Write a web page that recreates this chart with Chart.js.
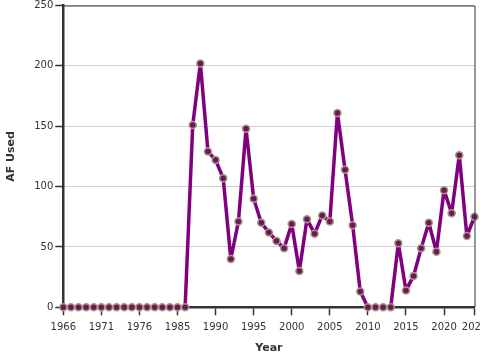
<!DOCTYPE html>
<html>
<head>
<meta charset="utf-8">
<script src="https://cdn.jsdelivr.net/npm/chart.js@4"></script>
<style>
  html, body { margin: 0; padding: 0; background: #fff; }
  #wrap { width: 480px; height: 360px; position: relative; }
</style>
</head>
<body>
<div id="wrap"><canvas id="c" width="480" height="360"></canvas></div>
<script>
const years = [
  1966, 1967, 1968, 1969, 1970, 1971, 1972, 1973, 1974, 1975, 1976, 1977, 1978, 1979, 1980,
  1985, 1986, 1987, 1988, 1989, 1990, 1991, 1992, 1993, 1994, 1995, 1996, 1997, 1998, 1999,
  2000, 2001, 2002, 2003, 2004, 2005, 2006, 2007, 2008, 2009, 2010, 2011, 2012, 2013, 2014,
  2015, 2016, 2017, 2018, 2019, 2020, 2021, 2022, 2023, 2024
];
const afUsed = [
  0, 0, 0, 0, 0, 0, 0, 0, 0, 0, 0, 0, 0, 0, 0,
  0, 0, 151, 202, 129, 122, 107, 40, 71, 148, 90, 70, 62, 55, 49,
  69, 30, 73, 61, 76, 71, 161, 114, 68, 13, 0, 0, 0, 0, 53,
  14, 26, 49, 70, 46, 97, 78, 126, 59, 75
];
const yTicks = [0, 50, 100, 150, 200, 250];

const frame = {
  id: 'frame',
  afterDatasetsDraw(chart) {
    const a = chart.chartArea, ctx = chart.ctx;
    ctx.save();
    ctx.strokeStyle = '#333';
    ctx.lineWidth = 1;
    ctx.beginPath();
    ctx.moveTo(a.left, a.top + 0.5);
    ctx.lineTo(a.right + 0.5, a.top + 0.5);
    ctx.lineTo(a.right + 0.5, a.bottom);
    ctx.stroke();
    ctx.restore();
  }
};

new Chart(document.getElementById('c'), {
  type: 'line',
  data: {
    labels: years.map(String),
    datasets: [{
      data: afUsed,
      borderColor: '#800080',
      borderWidth: 3.5,
      borderJoinStyle: 'round',
      borderCapStyle: 'round',
      pointBackgroundColor: '#6e1560',
      pointBorderColor: '#a59c7c',
      pointBorderWidth: 1.5,
      pointRadius: 3.5,
      tension: 0,
      fill: false
    }]
  },
  options: {
    responsive: false,
    animation: false,
    clip: false,
    layout: { padding: { top: 4, right: 5, left: 5, bottom: 1 } },
    plugins: { legend: { display: false }, tooltip: { enabled: false } },
    scales: {
      x: {
        type: 'category',
        offset: false,
        afterBuildTicks(scale) {
          const n = years.length;
          scale.ticks = scale.ticks.filter(t => t.value % 5 === 0 || t.value === n - 1);
        },
        afterFit(scale) { scale.paddingRight = 0; scale.paddingLeft = 0; },
        grid: { drawOnChartArea: false, drawTicks: true, tickLength: 8, tickColor: '#333', tickWidth: 1.5 },
        border: { display: true, color: '#333', width: 2.5 },
        ticks: {
          autoSkip: false, maxRotation: 0, minRotation: 0, padding: 6,
          color: '#333', font: { family: 'DejaVu Sans', size: 10 }
        },
        title: {
          display: true, text: 'Year', color: '#333',
          font: { family: 'DejaVu Sans', size: 11, weight: 'bold' },
          padding: { top: 2.5, bottom: 4 }
        }
      },
      y: {
        min: 0, max: 250,
        afterBuildTicks(scale) { scale.ticks = yTicks.map(v => ({ value: v })); },
        afterFit(scale) { scale.paddingTop = 0; scale.paddingBottom = 0; },
        grid: { color: '#d0d0d0', lineWidth: 1, drawTicks: true, tickLength: 8, tickColor: '#333', tickWidth: 1.5 },
        border: { display: true, color: '#333', width: 2.5 },
        ticks: {
          padding: 2, color: '#333', font: { family: 'DejaVu Sans', size: 10 }
        },
        title: {
          display: true, text: 'AF Used', color: '#333',
          font: { family: 'DejaVu Sans', size: 11, weight: 'bold' },
          padding: { top: 0, bottom: 14 }
        }
      }
    }
  },
  plugins: [frame]
});
</script>
</body>
</html>
